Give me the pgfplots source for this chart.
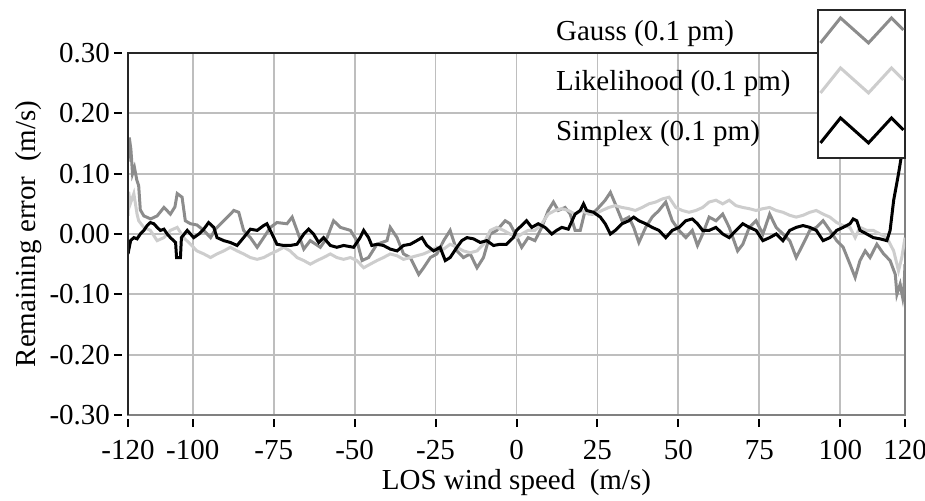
\documentclass[border=0pt]{standalone}
\usepackage{pgfplots}
\pgfplotsset{compat=1.18}
\usepackage{fontspec}
\setmainfont{Liberation Serif}
\definecolor{gaussc}{RGB}{140,140,140}
\definecolor{likec}{RGB}{205,205,205}
\definecolor{gridc}{RGB}{190,190,190}
\begin{document}
\begin{tikzpicture}
\begin{axis}[
  scale only axis,
  width=388.5pt, height=181pt,
  xmin=-120, xmax=120, ymin=-0.3, ymax=0.3,
  clip mode=individual,
  font=\fontsize{14.5}{17}\selectfont,
  xtick={-120,-100,-75,-50,-25,0,25,50,75,100,120},
  xticklabels={-120,-100,-75,-50,-25,0,25,50,75,100,120},
  ytick={-0.3,-0.2,-0.1,0,0.1,0.2,0.3},
  yticklabels={-0.30,-0.20,-0.10,0.00,0.10,0.20,0.30},
  xtick pos=bottom, ytick pos=left,
  tick align=outside,
  major tick length=4pt,
  x tick style={black, line width=1pt, yshift=-2pt},
  y tick style={black, line width=1pt, xshift=-3pt},
  xticklabel style={yshift=-5pt},
  yticklabel style={xshift=-1.5pt},
  grid=major,
  major grid style={gridc, line width=0.9pt},
  axis line style={draw=black!50, line width=1pt},
  xlabel={LOS wind speed\ \ (m/s)},
  ylabel={Remaining error\ \ (m/s)},
  xlabel shift=-2pt,
  ylabel shift=-3pt,
  legend cell align=left,
  legend plot pos=right,
  legend style={at={(1,1.119)}, anchor=north east, draw=none, fill=none,
    inner sep=0pt, outer sep=0pt, row sep=0pt, column sep=13pt,
    font=\fontsize{14.5}{17}\selectfont, nodes={inner sep=0pt}},
  legend image code/.code={%
    \draw[#1] (2pt,-5.5pt) -- (12pt,7pt) -- (26pt,-5.5pt) -- (37.5pt,7pt) -- (43.5pt,1pt);
    \path[draw=none, fill=none] (0pt,-14pt) rectangle (43.5pt,11pt);},
]
\coordinate (SW) at (axis description cs:0,0);
\addplot[gaussc, line width=1.5pt] table {
-120.0 0.12
-119.6 0.16
-119.1 0.14
-118.6 0.10
-118.0 0.11
-117.3 0.09
-116.7 0.08
-116.2 0.04
-115.1 0.03
-113.0 0.025
-111.0 0.030
-108.9 0.044
-106.9 0.033
-105.5 0.045
-104.8 0.067
-103.3 0.061
-102.3 0.022
-100.7 0.017
-98.7 0.015
-96.6 0.006
-94.5 -0.006
-93.0 0.008
-90.4 0.022
-87.3 0.039
-85.8 0.036
-84.3 0.006
-82.2 -0.006
-80.1 -0.022
-78.1 -0.006
-76.0 0.011
-74.0 0.019
-70.9 0.017
-69.3 0.028
-67.8 0.006
-65.7 -0.025
-63.7 -0.011
-60.6 -0.022
-58.5 -0.006
-56.5 0.022
-54.4 0.011
-51.3 0.006
-49.3 -0.011
-47.7 -0.044
-45.7 -0.039
-43.1 -0.017
-40.0 -0.011
-39.0 0.011
-36.9 -0.006
-34.9 -0.033
-32.8 -0.039
-30.2 -0.067
-28.7 -0.056
-26.6 -0.039
-24.6 -0.033
-22.5 -0.011
-20.5 0.006
-18.4 -0.028
-16.4 -0.039
-14.3 -0.033
-12.2 -0.056
-10.2 -0.039
-8.1 0.000
-6.1 0.006
-3.5 0.022
-2.0 0.017
0.0 -0.004
1.6 -0.022
3.6 -0.006
5.7 -0.011
7.8 0.011
9.8 0.039
11.4 0.053
12.9 0.039
15.0 0.044
16.6 0.033
18.1 0.006
19.7 0.006
21.2 0.039
23.3 0.033
25.4 0.044
27.4 0.056
29.0 0.069
30.5 0.050
32.6 0.022
34.7 0.028
36.2 0.011
37.8 -0.014
39.9 0.011
41.9 0.028
44.0 0.039
46.1 0.053
48.1 0.022
50.2 0.006
52.3 -0.006
54.3 0.006
55.9 -0.019
57.5 0.000
59.5 0.028
61.6 0.022
63.7 0.033
65.7 0.011
68.3 -0.028
69.9 -0.017
71.9 0.011
74.0 0.022
76.1 0.000
78.2 0.033
80.2 0.011
82.3 0.000
84.4 -0.011
86.4 -0.039
88.5 -0.017
90.6 0.006
92.6 0.011
94.7 0.022
96.8 0.006
98.9 -0.011
100.9 -0.022
103.0 -0.050
104.6 -0.072
106.1 -0.044
107.7 -0.028
109.2 -0.039
111.3 -0.017
113.4 -0.033
115.4 -0.044
117.0 -0.067
117.5 -0.100
118.5 -0.083
119.3 -0.106
119.7 -0.090
120.0 -0.050
};
\addlegendentry{Gauss (0.1 pm)}
\addplot[likec, line width=1.5pt] table {
-120.0 0.030
-119.8 0.070
-119.3 0.050
-118.2 0.067
-117.2 0.033
-116.7 0.022
-115.1 0.011
-113.1 0.006
-111.0 -0.011
-108.9 -0.006
-106.9 0.006
-104.8 0.011
-102.8 -0.006
-100.7 -0.017
-98.7 -0.028
-96.6 -0.033
-94.5 -0.039
-92.5 -0.033
-90.4 -0.028
-88.4 -0.022
-86.3 -0.028
-84.3 -0.033
-82.2 -0.039
-80.1 -0.042
-78.1 -0.039
-76.0 -0.033
-74.0 -0.028
-71.9 -0.022
-69.9 -0.028
-67.8 -0.039
-65.7 -0.044
-63.7 -0.050
-61.6 -0.044
-59.6 -0.039
-57.5 -0.033
-55.5 -0.039
-53.4 -0.042
-51.3 -0.039
-49.3 -0.044
-47.2 -0.056
-45.2 -0.050
-43.1 -0.044
-41.1 -0.039
-39.0 -0.033
-36.9 -0.036
-34.9 -0.042
-32.8 -0.039
-30.8 -0.036
-28.7 -0.033
-26.6 -0.028
-24.6 -0.022
-22.5 -0.025
-20.5 -0.017
-18.4 -0.022
-16.4 -0.028
-14.3 -0.031
-12.2 -0.028
-10.2 -0.017
-8.1 0.006
-6.1 0.011
-4.0 0.006
-2.0 0.000
0.0 -0.006
1.6 0.000
3.6 0.006
5.7 0.006
7.8 0.017
9.8 0.033
11.9 0.039
14.0 0.042
16.0 0.039
18.1 0.033
20.2 0.039
22.3 0.033
24.3 0.033
26.4 0.039
28.5 0.044
30.5 0.047
32.6 0.044
34.7 0.042
36.7 0.039
38.8 0.044
40.9 0.050
43.0 0.053
45.0 0.058
47.1 0.061
49.2 0.044
51.2 0.039
53.3 0.036
55.4 0.039
57.5 0.044
59.5 0.053
61.6 0.056
63.7 0.050
65.7 0.056
67.8 0.047
69.9 0.044
71.9 0.042
74.0 0.039
76.1 0.042
78.2 0.044
80.2 0.039
82.3 0.036
84.4 0.031
86.4 0.028
88.5 0.031
90.6 0.036
92.6 0.039
94.7 0.033
96.8 0.028
98.9 0.019
100.9 0.014
103.0 0.011
104.6 -0.006
106.1 0.011
108.2 0.006
110.2 0.006
112.3 0.000
114.4 -0.006
116.5 -0.028
118.0 -0.061
119.0 -0.039
120.0 -0.006
};
\addlegendentry{Likelihood (0.1 pm)}
\addplot[black, line width=1.5pt] table {
-120.0 -0.033
-119.2 -0.011
-118.2 -0.006
-117.2 -0.008
-116.2 0.000
-115.1 0.006
-114.1 0.014
-113.1 0.019
-112.0 0.017
-111.0 0.011
-110.0 0.006
-108.9 0.008
-107.9 0.000
-106.9 -0.006
-105.3 -0.014
-105.0 -0.039
-103.8 -0.039
-103.5 -0.006
-101.7 0.006
-100.7 0.000
-99.7 -0.006
-98.1 0.000
-96.6 0.008
-95.1 0.019
-93.5 0.011
-92.5 -0.006
-90.4 -0.011
-88.4 -0.014
-86.3 -0.019
-84.3 -0.006
-82.2 0.008
-80.1 0.006
-78.1 0.014
-77.1 0.017
-75.5 0.000
-74.0 -0.017
-71.9 -0.019
-69.9 -0.019
-67.8 -0.017
-65.7 0.000
-64.2 0.008
-62.7 0.000
-61.1 -0.014
-59.6 -0.006
-57.5 -0.019
-55.5 -0.022
-53.4 -0.019
-50.3 -0.022
-48.3 -0.006
-47.2 0.006
-45.7 -0.006
-44.7 -0.019
-43.1 -0.017
-41.1 -0.019
-39.0 -0.025
-36.9 -0.028
-34.9 -0.019
-32.8 -0.017
-30.8 -0.011
-29.2 -0.006
-27.7 -0.019
-25.6 -0.028
-23.6 -0.022
-22.0 -0.044
-20.5 -0.039
-18.4 -0.022
-16.9 -0.011
-15.3 -0.006
-13.3 -0.008
-11.2 -0.014
-9.2 -0.011
-7.1 -0.019
-5.1 -0.017
-3.1 -0.017
-1.0 -0.006
0.0 0.006
1.6 0.014
3.1 0.022
4.7 0.011
6.7 0.017
8.8 0.011
10.9 0.000
12.4 0.006
14.0 0.011
16.0 0.008
18.1 0.033
19.7 0.039
20.7 0.050
21.7 0.039
23.8 0.036
25.9 0.028
27.4 0.017
29.0 0.000
30.5 0.006
32.6 0.017
34.7 0.022
36.2 0.028
37.8 0.022
39.9 0.017
41.9 0.011
44.0 0.006
46.1 -0.006
48.1 0.006
50.2 0.011
52.3 0.022
54.3 0.025
55.9 0.017
57.5 0.006
59.5 0.006
61.6 0.011
63.7 0.000
65.7 -0.006
67.8 0.006
69.9 0.017
71.9 0.011
74.0 0.006
76.1 -0.011
78.2 -0.006
80.2 0.000
82.3 -0.011
84.4 0.006
86.4 0.011
88.5 0.014
90.6 0.011
92.6 0.006
94.7 -0.011
96.8 -0.006
98.9 0.006
100.9 0.011
103.0 0.017
104.0 0.025
105.1 0.022
106.1 0.006
108.2 0.000
110.2 -0.006
112.3 -0.008
114.4 -0.011
115.4 0.006
116.5 0.056
118.0 0.100
119.0 0.133
120.0 0.170
};
\addlegendentry{Simplex (0.1 pm)}
\draw[black!85, line width=1pt] (axis description cs:0,0) -- (axis description cs:0,1) -- (axis description cs:0.888,1);
\draw[black!85, line width=1pt, fill=white] (axis description cs:0.888,0.710) rectangle (axis description cs:1,1.119);
\end{axis}
\pgfresetboundingbox
\path ([shift={(-64pt,-42.5pt)}]SW) rectangle ([shift={(398.5pt,207.5pt)}]SW);
\end{tikzpicture}
\end{document}
